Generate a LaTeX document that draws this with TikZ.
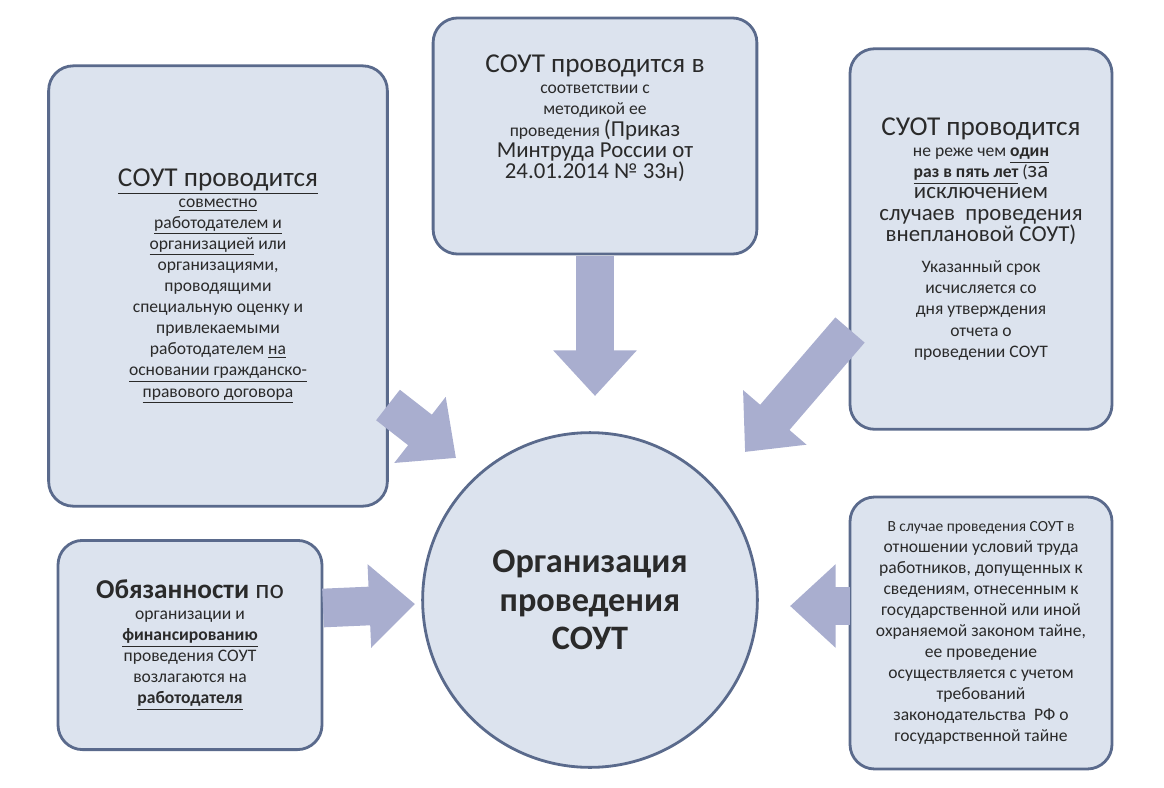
\documentclass[tikz,border=0pt]{standalone}
\usepackage{fontspec}
\setmainfont{Carlito}
\usetikzlibrary{arrows.meta}
\definecolor{boxfill}{HTML}{DCE3EE}
\definecolor{boxline}{HTML}{5A6A8C}
\definecolor{arrowcol}{HTML}{A9AECF}
\definecolor{txt}{HTML}{2A2A2A}
\tikzset{
  infobox/.style={rectangle, draw=boxline, fill=boxfill, line width=1.6pt, rounded corners=14pt, align=center, text=txt, inner sep=0pt},
  blockarrow/.style={draw=arrowcol, line width=22pt, -{Triangle[length=26pt,width=46pt]}}
}
\newcommand{\undl}[1]{\underline{#1}}
\newcommand{\bigtxt}{\fontsize{15.5}{18.7}\selectfont}
\newcommand{\midtxt}{\fontsize{13}{18.7}\selectfont}

\begin{document}
\begin{tikzpicture}[x=0.02cm, y=-0.02cm]
    \useasboundingbox (0,0) rectangle (1164,788);

    \node [infobox, minimum width=340*0.567pt, minimum height=442*0.567pt] (cojoint) at (218,286) {\bigtxt
      \undl{СОУТ проводится}\\ \undl{совместно}\\ \undl{работодателем и}\\ \undl{организацией} или\\ организациями,\\ проводящими\\ специальную оценку и\\ привлекаемыми\\ работодателем \undl{на}\\ \undl{основании гражданско-}\\ \undl{правового договора}};
    \node [infobox, minimum width=325*0.567pt, minimum height=237*0.567pt] (method) at (595,136) {\bigtxt
      СОУТ проводится в\\ соответствии с\\ методикой ее\\ проведения {\midtxt(Приказ}\\ {\midtxt Минтруда России от}\\ {\midtxt 24.01.2014 № 33н)}\\[10pt]};
    \node [infobox, minimum width=263*0.567pt, minimum height=382*0.567pt] (period) at (981,239) {\bigtxt
      СУОТ проводится\\ не реже чем \textbf{\undl{один}}\\ \textbf{\undl{раз в пять лет}} ({\midtxt за}\\ {\midtxt исключением}\\ {\midtxt случаев\ \ проведения}\\ {\midtxt внеплановой\ СОУТ)}\\[6pt]
      Указанный срок\\ исчисляется со\\ дня утверждения\\ отчета о\\ проведении СОУТ};
    \node [infobox, minimum width=265*0.567pt, minimum height=210*0.567pt] (duty) at (190,645) {\bigtxt
      \textbf{Обязанности} по\\ организации и\\ \textbf{\undl{финансированию}}\\ проведения СОУТ\\ возлагаются на\\ \textbf{\undl{работодателя}}};
    \node [infobox, minimum width=263*0.567pt, minimum height=273*0.567pt] (secret) at (981,633) {\fontsize{8.8}{10.3}\selectfont
      В случае проведения СОУТ в\\ отношении условий труда\\ работников, допущенных к\\ сведениям, отнесенным к\\ государственной или иной\\ охраняемой законом тайне,\\ ее проведение\\ осуществляется с учетом\\ требований\\ законодательства\ \ РФ о\\ государственной тайне};
    \node [circle, draw=boxline, fill=boxfill, line width=1.6pt, minimum size=336*0.567pt, align=center, text=txt, font=\fontsize{19.5}{22}\selectfont\bfseries] (center) at (590,600) {Организация\\ проведения\\ СОУТ};

    \coordinate (a1s) at (388,405);
    \coordinate (a1e) at (456,458);
    \coordinate (a2s) at (595,256);
    \coordinate (a2e) at (595,396);
    \coordinate (a3s) at (850,330);
    \coordinate (a3e) at (745,452);
    \coordinate (a4s) at (323,608);
    \coordinate (a4e) at (415,604);
    \coordinate (a5s) at (850,606);
    \coordinate (a5e) at (790,606);

    \draw [blockarrow] (a1s) -- (a1e);
    \draw [blockarrow] (a2s) -- (a2e);
    \draw [blockarrow] (a3s) -- (a3e);
    \draw [blockarrow] (a4s) -- (a4e);
    \draw [blockarrow] (a5s) -- (a5e);
\end{tikzpicture}
\end{document}
